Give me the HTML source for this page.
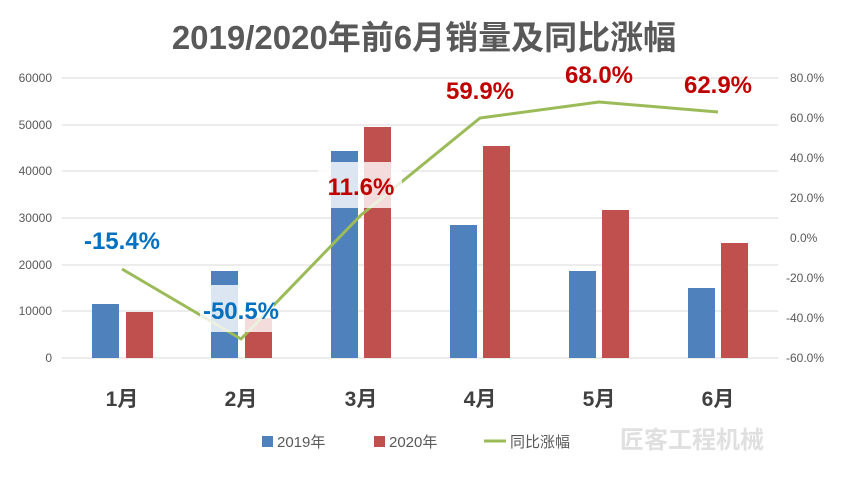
<!DOCTYPE html>
<html><head><meta charset="utf-8"><style>
body{margin:0;background:#fff}
svg text{font-family:"Liberation Sans","Noto Sans CJK SC",sans-serif}
</style></head><body>
<svg width="841" height="480" viewBox="0 0 841 480" xmlns="http://www.w3.org/2000/svg">
<rect width="841" height="480" fill="#fff"/>
<text x="424" y="49" text-anchor="middle" font-size="33" font-weight="bold" fill="#595959">2019/2020年前6月销量及同比涨幅</text>
<g stroke="#d9d9d9" stroke-width="1">
<line x1="62" y1="78" x2="778" y2="78"/><line x1="62" y1="125" x2="778" y2="125"/>
<line x1="62" y1="171" x2="778" y2="171"/><line x1="62" y1="218" x2="778" y2="218"/>
<line x1="62" y1="265" x2="778" y2="265"/><line x1="62" y1="311" x2="778" y2="311"/>
<line x1="62" y1="358" x2="778" y2="358"/>
</g>
<g font-size="12" fill="#595959" text-anchor="end">
<text x="52" y="82">60000</text><text x="52" y="129">50000</text><text x="52" y="175">40000</text>
<text x="52" y="222">30000</text><text x="52" y="269">20000</text><text x="52" y="315">10000</text><text x="52" y="362">0</text>
</g>
<g font-size="12" fill="#595959" text-anchor="start">
<text x="790" y="82">80.0%</text><text x="790" y="122">60.0%</text><text x="790" y="162">40.0%</text>
<text x="790" y="202">20.0%</text><text x="790" y="242">0.0%</text><text x="786" y="282">-20.0%</text>
<text x="786" y="322">-40.0%</text><text x="786" y="362">-60.0%</text>
</g>
<g fill="#4f81bd">
<rect x="92" y="304" width="27" height="54"/><rect x="211" y="271" width="27" height="87"/>
<rect x="331" y="151" width="27" height="207"/><rect x="450" y="225" width="27" height="133"/>
<rect x="569" y="271" width="27" height="87"/><rect x="688" y="288" width="27" height="70"/>
</g>
<g fill="#c0504d">
<rect x="126" y="312" width="27" height="46"/><rect x="245" y="318" width="27" height="40"/>
<rect x="364" y="127" width="27" height="231"/><rect x="483" y="146" width="27" height="212"/>
<rect x="602" y="210" width="27" height="148"/><rect x="721" y="243" width="27" height="115"/>
</g>
<polyline points="122,269 241,339 361,215 480,118 599,102 718,112" fill="none" stroke="#9bbb59" stroke-width="3" stroke-linejoin="round"/>
<rect x="200" y="285" width="74" height="47" fill="#fff" fill-opacity="0.8"/>
<rect x="318" y="162" width="84" height="46" fill="#fff" fill-opacity="0.8"/>
<g font-size="24" font-weight="bold" text-anchor="middle">
<text x="122" y="249" fill="#0070c0">-15.4%</text>
<text x="241" y="319" fill="#0070c0">-50.5%</text>
<text x="361" y="195" fill="#c00000">11.6%</text>
<text x="480" y="99" fill="#c00000">59.9%</text>
<text x="599" y="83" fill="#c00000">68.0%</text>
<text x="718" y="93" fill="#c00000">62.9%</text>
</g>
<g font-size="21" font-weight="bold" fill="#404040" text-anchor="middle">
<text x="122" y="406">1月</text><text x="241" y="406">2月</text><text x="361" y="406">3月</text>
<text x="480" y="406">4月</text><text x="599" y="406">5月</text><text x="718" y="406">6月</text>
</g>
<g font-size="15" fill="#595959">
<rect x="262" y="436" width="11" height="11" fill="#4f81bd"/><text x="277" y="447">2019年</text>
<rect x="374" y="436" width="11" height="11" fill="#c0504d"/><text x="389" y="447">2020年</text>
<line x1="484" y1="441" x2="506" y2="441" stroke="#9bbb59" stroke-width="3"/><text x="510" y="447">同比涨幅</text>
</g>
<text x="620" y="448" font-size="24" fill="#e0e0e0" font-weight="bold">匠客工程机械</text>
</svg>
</body></html>
